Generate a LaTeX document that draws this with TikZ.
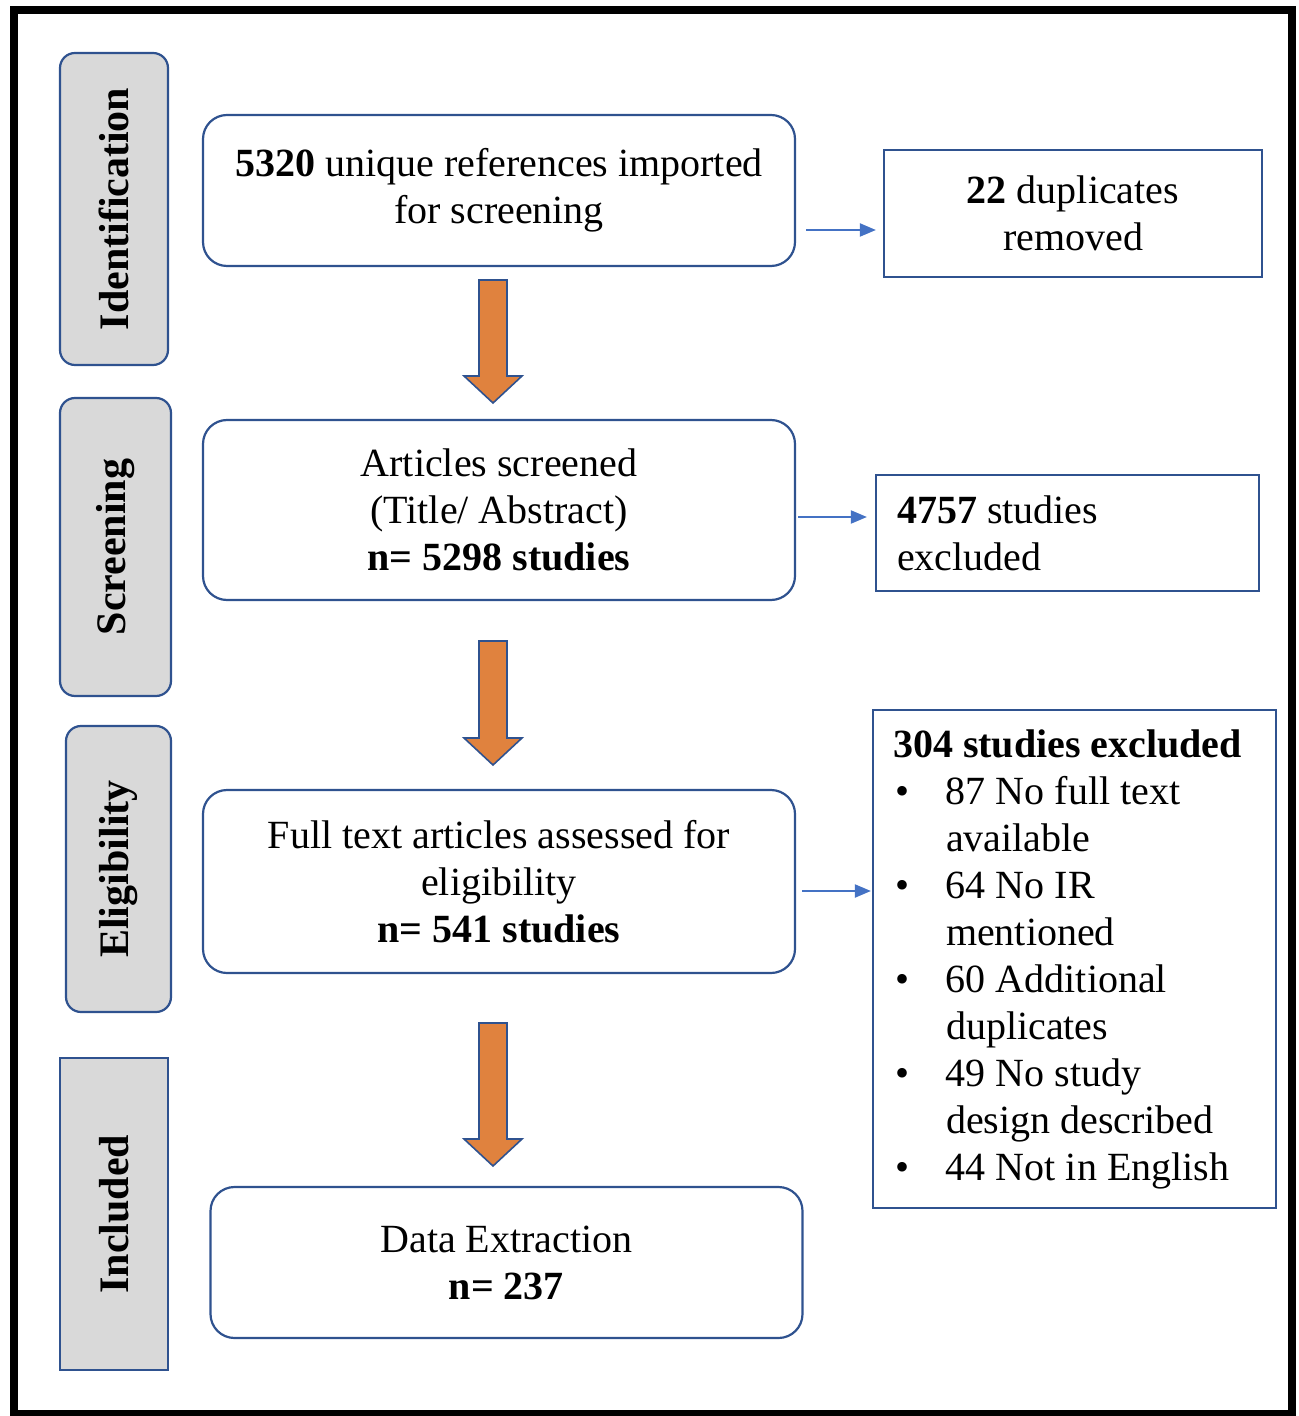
\documentclass[tikz,border=0pt]{standalone}
\usepackage{fontspec}
\setmainfont{Liberation Serif}
\usetikzlibrary{arrows.meta}
\definecolor{boxblue}{RGB}{47,82,143}
\definecolor{arrowblue}{RGB}{68,114,196}
\definecolor{stagegray}{RGB}{217,217,217}
\definecolor{flowor}{RGB}{224,130,62}
\newcommand{\exitem}{\makebox[26.5pt][l]{\hspace{1pt}\textbullet}}
\newcommand{\exindent}{\hspace*{26.5pt}}
\begin{document}
\begin{tikzpicture}[x=0.5pt, y=-0.5pt,
        every node/.style={font=\fontsize{20}{23.5}\selectfont, inner sep=0pt},
        stage/.style={draw=boxblue, line width=1.1pt, fill=stagegray, rounded corners=7.5pt, rotate=90, font=\fontsize{21}{24}\selectfont\bfseries},
        mainbox/.style={draw=boxblue, line width=1.1pt, rounded corners=12pt, align=center, minimum width=296pt},
        sidebox/.style={draw=boxblue, line width=1.1pt},
        flow/.style={-{Triangle[length=8pt, width=6.5pt]}, arrowblue, line width=1pt},
        bigarrow/.style={fill=flowor, draw=boxblue, line width=0.8pt}]
        \useasboundingbox (0,0) rectangle (1298,1416);
        \draw[line width=4pt] (13.5,10) rectangle (1292,1414);

        % stages
        \node[stage, minimum width=156pt, minimum height=54pt] (id) at (114,209) {Identification};
        \node[stage, minimum width=149pt, minimum height=55.5pt] (scr) at (115.5,547) {Screening};
        \node[stage, minimum width=143pt, minimum height=52.5pt] (elig) at (118.5,869) {Eligibility};
        \node[stage, sharp corners, minimum width=156pt, minimum height=54pt] (incl) at (114,1214) {Included};

        % main flow
        \node[mainbox, minimum height=75.5pt] (b1) at (499,190.5) {\textbf{5320} unique references imported\\for screening};
        \node[mainbox, minimum height=90pt] (b2) at (499,510) {Articles screened\\(Title/ Abstract)\\\textbf{n= 5298 studies}};
        \node[mainbox, minimum height=91.5pt] (b3) at (499,881.5) {Full text articles assessed for\\eligibility\\\textbf{n= 541 studies}};
        \node[mainbox, minimum height=75.5pt] (b4) at (506.5,1262.5) {Data Extraction\\\textbf{n= 237}};

        % exclusions
        \node[sidebox, align=center, minimum width=189pt, minimum height=63.5pt] (r1) at (1073,213.5) {\textbf{22} duplicates\\removed};
        \node[sidebox, align=flush left, text width=170.5pt, inner xsep=10.5pt, minimum height=58pt] (r2) at (1067.5,533) {\textbf{4757} studies\\excluded};
        \node[sidebox, align=flush left, text width=181.5pt, inner xsep=10pt, minimum height=249pt] (r3) at (1074.5,959) {\textbf{304 studies excluded}\\
            \exitem 87 No full text\\\exindent available\\
            \exitem 64 No IR\\\exindent mentioned\\
            \exitem 60 Additional\\\exindent duplicates\\
            \exitem 49 No study\\\exindent design described\\
            \exitem 44 Not in English};

        \draw[flow, shorten <=5pt, shorten >=3.5pt] (b1.east |- 0,230) -- (r1.west |- 0,230);
        \draw[flow, shorten <=1pt, shorten >=4pt] (b2.east |- 0,517) -- (r2.west |- 0,517);
        \draw[flow, shorten <=3pt, shorten >=0.5pt] (b3.east |- 0,891) -- (r3.west |- 0,891);

        \foreach \ya/\yb in {280/403, 641/765, 1023/1166}
            \draw[bigarrow] (479,\ya) -- (507,\ya) -- (507,\yb-27) -- (522,\yb-27) -- (493,\yb) -- (464,\yb-27) -- (479,\yb-27) -- cycle;
    \end{tikzpicture}
\end{document}
